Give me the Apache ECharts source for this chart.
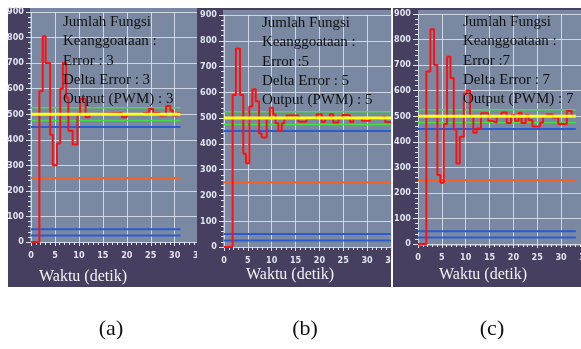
<!DOCTYPE html>
<html lang="id">
<head>
<meta charset="UTF-8">
<title>Respon PWM - Jumlah Fungsi Keanggotaan</title>
<script src="https://cdn.jsdelivr.net/npm/echarts@6/dist/echarts.min.js"></script>
<style>
  html, body { margin: 0; padding: 0; background: #fff; }
  #wrap { position: relative; width: 581px; height: 349px; overflow: hidden; }
  .panel { position: absolute; top: 0; height: 349px; }
  #pa { left: 0; width: 197px; }
  #pb { left: 197px; width: 195px; }
  #pc { left: 392px; width: 189px; }
</style>
</head>
<body>
<div id="wrap">
  <div class="panel" id="pa"></div>
  <div class="panel" id="pb"></div>
  <div class="panel" id="pc"></div>
</div>
<script>
// --- data (time in s, PWM output) ---
const timeA = [0, 1.75, 2.45, 3.05, 4.0, 4.55, 5.4, 6.1, 6.65, 7.35, 7.8, 8.7, 9.7, 10.25, 11.4, 12.2, 13.05, 19.0, 20.0, 23.5, 24.6, 25.5, 26.9, 28.2, 29.1, 29.6, 30.5, 31.2];
const pwmA  = [0, 590, 805, 700, 420, 300, 385, 600, 700, 565, 435, 382, 503, 560, 488, 500, 505, 488, 497, 505, 520, 505, 495, 532, 515, 495, 505, 505];

const timeB = [0, 1.8, 2.5, 3.35, 4.05, 4.6, 5.3, 5.95, 6.65, 7.35, 7.9, 8.95, 9.6, 10.3, 10.8, 11.4, 12.1, 12.65, 13.1, 15.6, 17.3, 19.4, 20.5, 21.2, 22.2, 22.9, 24.0, 24.8, 26.4, 27.1, 28.9, 30.6, 32.4, 33.8, 35];
const pwmB  = [0, 590, 770, 590, 362, 325, 545, 612, 565, 440, 425, 500, 540, 515, 480, 450, 480, 500, 510, 486, 497, 515, 485, 500, 515, 483, 500, 512, 485, 500, 490, 498, 505, 485, 485];

const timeC = [0, 1.75, 2.6, 3.36, 4.06, 4.7, 5.4, 6.1, 6.8, 7.5, 8.06, 8.76, 9.6, 10.16, 10.9, 11.6, 12.3, 13.2, 14.75, 15.6, 16.5, 17.5, 18.6, 19.5, 20.3, 21.1, 21.7, 22.6, 23.2, 24.0, 25.6, 26.2, 27.0, 28.2, 29.4, 30.1, 31.2, 32.2, 33.1];
const pwmC  = [0, 675, 840, 700, 270, 240, 470, 733, 650, 448, 315, 420, 588, 601, 497, 435, 452, 512, 482, 475, 500, 515, 473, 505, 482, 514, 473, 505, 485, 460, 475, 498, 508, 495, 470, 470, 520, 500, 500];

// reference levels drawn in every panel
const setPoint = 500;
const bandLevels = [525, 475];
const blueLevels = [450, 50, 25];
const orangeLevel = 250;
const levelEnd = [31.2, 35, 33.1];

const yTickLabels = [0, 100, 200, 300, 400, 500, 600, 700, 800, 900];
const xTickLabels = [0, 5, 10, 15, 20, 25, 30, 35];

const headLines = ['Jumlah Fungsi', 'Keanggoataan :'];
const ruleA = ['Error : 3', 'Delta Error : 3', 'Output (PWM) : 3'];
const ruleB = ['Error :5', 'Delta Error : 5', 'Output (PWM) : 5'];
const ruleC = ['Error :7', 'Delta Error : 7', 'Output (PWM) : 7'];
const captions = ['(a)', '(b)', '(c)'];
const xName = 'Waktu (detik)';

// --- styling ---
const DARK = '#463f60';
const PLOT = '#7a89a1';
const GRIDLINE = 'rgba(222,228,238,0.85)';
const TICKC = '#dfe4ee';
const SERIF = '"Liberation Serif", "Times New Roman", serif';
const NARROW = '"Liberation Sans Narrow", "DejaVu Sans Condensed", sans-serif';

function hline(v, end, color, width, z) {
  return {
    type: 'line', data: [[0, v], [end, v]], symbol: 'none', silent: true, z: z,
    lineStyle: { color: color, width: width }
  };
}

function makePanel(id, L, times, vals, rules, caption, end) {
  const chart = echarts.init(document.getElementById(id), null, { renderer: 'canvas' });
  const texts = headLines.concat(rules).map((t, i) => ({
    type: 'text', z: 100, silent: true,
    style: { text: t, x: L.tx, y: L.ty + i * 19.3, fill: '#111', font: '15px ' + SERIF, verticalAlign: 'middle' }
  }));
  const series = [];
  blueLevels.forEach(v => series.push(hline(v, end, '#2a5bd0', 2, 2)));
  series.push(hline(orangeLevel, end, '#f0622a', 2, 2));
  bandLevels.forEach(v => series.push(hline(v, end, '#3fe03f', 1.5, 2)));
  series.push({
    type: 'line', step: 'end', symbol: 'none', silent: true, z: 3,
    data: times.map((t, i) => [t, vals[i]]),
    lineStyle: { color: '#ff1010', width: 2 }
  });
  series.push(hline(setPoint, end, '#ffff1a', 3, 4));

  chart.setOption({
    animation: false,
    backgroundColor: '#ffffff',
    grid: { left: L.gl, top: L.gt, width: L.gw, height: L.gh, containLabel: false, outerBoundsMode: 'none' },
    xAxis: {
      type: 'value', min: xTickLabels[0], max: xTickLabels[xTickLabels.length - 1], interval: 5,
      axisLine: { show: false },
      axisTick: { show: true, length: 4, lineStyle: { color: TICKC } },
      minorTick: { show: true, splitNumber: 5, length: 3, lineStyle: { color: TICKC } },
      axisLabel: { color: TICKC, fontFamily: NARROW, fontWeight: 'bold', fontSize: 9, margin: 9, hideOverlap: false },
      splitLine: { show: true, lineStyle: { color: GRIDLINE, width: 1 } }
    },
    yAxis: {
      type: 'value', min: yTickLabels[0], max: yTickLabels[yTickLabels.length - 1], interval: 100,
      axisLine: { show: false },
      axisTick: { show: true, length: 5, lineStyle: { color: TICKC } },
      minorTick: { show: true, splitNumber: 5, length: 3, lineStyle: { color: TICKC } },
      axisLabel: { color: TICKC, fontFamily: NARROW, fontWeight: 'bold', fontSize: 9, margin: 7 },
      splitLine: { show: true, lineStyle: { color: GRIDLINE, width: 1 } }
    },
    graphic: [
      { type: 'rect', z: -10, silent: true, shape: L.panel, style: { fill: DARK } },
      { type: 'rect', z: -9, silent: true, shape: L.plot, style: { fill: PLOT } },
      { type: 'text', z: 100, silent: true,
        style: { text: xName, x: L.nx, y: L.ny, fill: '#f2f2f6', font: '16px ' + SERIF, align: 'center', verticalAlign: 'middle' } },
      { type: 'text', z: 100, silent: true,
        style: { text: caption, x: L.cx, y: 329, fill: '#111', font: '22px ' + SERIF, align: 'center', verticalAlign: 'middle' } }
    ].concat(texts),
    series: series
  });
  return chart;
}

makePanel('pa', {
  panel: { x: 8, y: 8, width: 189, height: 279 },
  plot: { x: 30, y: 8, width: 167, height: 235 },
  gl: 31, gt: 12, gw: 35 * 4.79, gh: 230,
  tx: 63, ty: 22, nx: 83, ny: 277, cx: 111
}, timeA, pwmA, ruleA, captions[0], levelEnd[0]);

makePanel('pb', {
  panel: { x: 0, y: 8, width: 194, height: 279 },
  plot: { x: 26, y: 10, width: 168, height: 238 },
  gl: 27, gt: 15, gw: 35 * 4.77, gh: 232,
  tx: 65, ty: 23, nx: 93, ny: 275, cx: 108
}, timeB, pwmB, ruleB, captions[1], levelEnd[1]);

makePanel('pc', {
  panel: { x: 1, y: 8, width: 188, height: 279 },
  plot: { x: 26, y: 10, width: 163, height: 236 },
  gl: 26, gt: 14, gw: 35 * 4.77, gh: 230,
  tx: 71, ty: 22, nx: 91, ny: 275, cx: 100
}, timeC, pwmC, ruleC, captions[2], levelEnd[2]);
</script>
</body>
</html>
